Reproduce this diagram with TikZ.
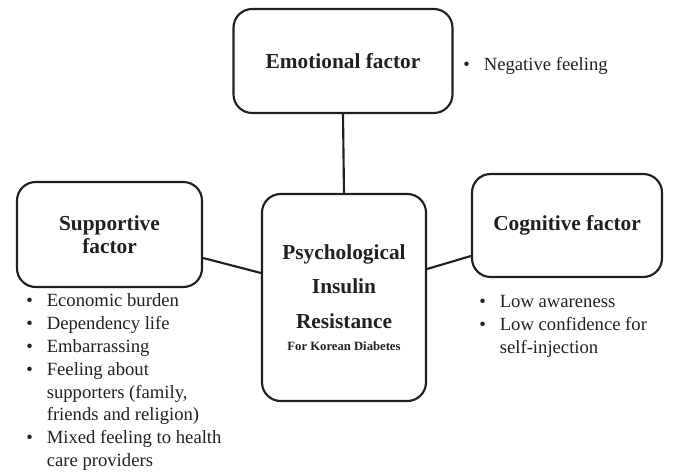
\documentclass[tikz,border=0pt]{standalone}
\usepackage{fontspec}
\setmainfont{Liberation Serif}
\usetikzlibrary{positioning,calc}
\definecolor{ink}{HTML}{231F20}
\tikzset{
  factor/.style={
    draw = ink,
    line width = 1.6pt,
    rounded corners = 14pt,
    align = center,
    text = ink,
    font = \fontsize{16}{17.5}\selectfont\bfseries
  },
  link/.style={
    draw = ink,
    line width = 1.6pt
  },
  notes/.style={
    anchor = north west,
    inner sep = 0pt,
    align = left,
    text = ink,
    font = \fontsize{14}{17.2}\selectfont
  }
}
\newcommand{\bulletlist}[1]{\begin{tabular}{@{}l@{\hspace{10.5pt}}l@{}}#1\end{tabular}}

\begin{document}
\begin{tikzpicture}[x=0.75pt, y=-0.75pt]
    \useasboundingbox (0,0) rectangle (692,473);
    % factor boxes
    \node[factor, minimum width=219*0.75pt, minimum height=104*0.75pt] (emo) at (343, 61) {Emotional factor};
    \node[factor, minimum width=164*0.75pt, minimum height=207*0.75pt, font=\fontsize{16}{26}\selectfont\bfseries] (pir) at (344, 297.5)
        {Psychological\\Insulin\\Resistance\\[-9.5pt]{\fontsize{9.5}{12}\selectfont For Korean Diabetes}};
    \node[factor, minimum width=185*0.75pt, minimum height=105*0.75pt] (sup) at (109.5, 234.5) {Supportive\\factor};
    \node[factor, minimum width=190*0.75pt, minimum height=103*0.75pt] (cog) at (567, 225.5) {Cognitive factor};
    % connectors
    \draw[link] (emo.south) -- (pir.north);
    \draw[link] ($(sup.east)+(0,23.5)$) -- ($(pir.west)+(0,-24.5)$);
    \draw[link] ($(pir.east)+(0,-28.5)$) -- ($(cog.west)+(0,30.5)$);
    % items
    \node[notes] (emolist) at (463, 54) {\bulletlist{\textbullet & Negative feeling}};
    \node[notes] (suplist) at (26, 290) {\bulletlist{
        \textbullet & Economic burden\\
        \textbullet & Dependency life\\
        \textbullet & Embarrassing\\
        \textbullet & Feeling about\\
                    & supporters (family,\\
                    & friends and religion)\\
        \textbullet & Mixed feeling to health\\
                    & care providers}};
    \node[notes] (coglist) at (479, 291) {\bulletlist{
        \textbullet & Low awareness\\
        \textbullet & Low confidence for\\
                    & self-injection}};
\end{tikzpicture}
\end{document}
